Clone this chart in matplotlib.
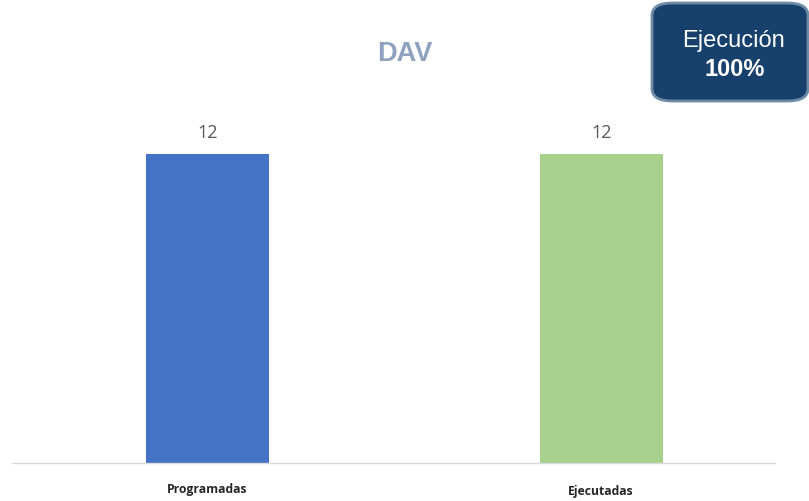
import matplotlib
matplotlib.use('Agg')
import matplotlib.pyplot as plt
from matplotlib.patches import FancyBboxPatch

categories = ['Programadas', 'Ejecutadas']
values = [12, 12]
colors = ['#4472C4', '#A9D18E']
title = 'DAV'
badge_label = 'Ejecución'
badge_value = '100%'

fig = plt.figure(figsize=(8.09, 5.02), dpi=100)
ax = fig.add_axes([12 / 809, 38 / 502, 763 / 809, 364 / 502])

x = range(len(categories))
bars = ax.bar(x, values, width=0.312, color=colors)
for b, v in zip(bars, values):
    ax.annotate(str(v), (b.get_x() + b.get_width() / 2, v),
                xytext=(0, 9), textcoords='offset points',
                ha='center', va='bottom', fontsize=13, color='#595959',
                family='Open Sans')

ax.set_xlim(-0.496, 1.44)
ax.set_ylim(0, 12 * 364 / 309)
ax.set_yticks([])
ax.set_xticks([])
for s in ['top', 'right', 'left']:
    ax.spines[s].set_visible(False)
ax.spines['bottom'].set_color('#D9D9D9')
ax.spines['bottom'].set_linewidth(1)

# category labels (slightly different heights, as in the reference)
fig.text(207 / 809, 1 - 490 / 502, categories[0], ha='center', va='center',
         fontsize=8.7, fontweight='bold', color='#262626', family='Open Sans')
fig.text(601 / 809, 1 - 492 / 502, categories[1], ha='center', va='center',
         fontsize=8.7, fontweight='bold', color='#262626', family='Open Sans')

fig.text(405 / 809, 1 - 54 / 502, title, ha='center', va='center',
         fontsize=19.5, fontweight='bold', color='#8EA2BF',
         family='Liberation Sans')

# badge in the top right corner
badge = FancyBboxPatch((652 / 809, 1 - 102 / 502), 156 / 809, 98 / 502,
                       boxstyle='round,pad=0,rounding_size=0.025',
                       transform=fig.transFigure, facecolor='#17406D',
                       edgecolor='#6F8BA6', linewidth=2)
fig.patches.append(badge)
fig.text(734 / 809, 1 - 41 / 502, badge_label, ha='center', va='center',
         fontsize=17, color='white', family='Liberation Sans')
fig.text(735 / 809, 1 - 69 / 502, badge_value, ha='center', va='center',
         fontsize=17, fontweight='bold', color='white',
         family='Liberation Sans')

fig.savefig('out.png', dpi=100)
